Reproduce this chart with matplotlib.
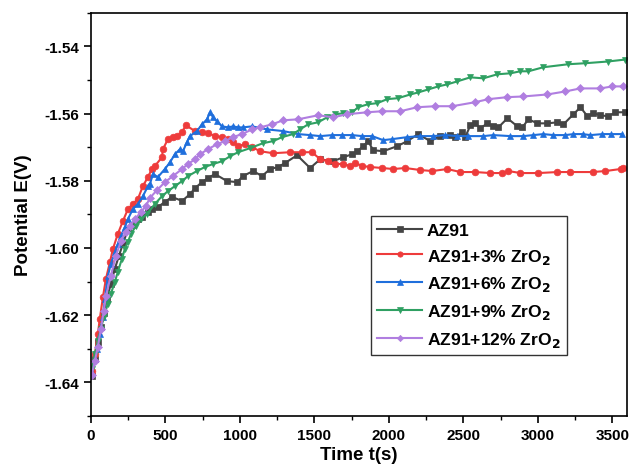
import matplotlib
matplotlib.use("Agg")
import matplotlib.pyplot as plt
from matplotlib.ticker import MultipleLocator, FormatStrFormatter

plt.rcParams['font.family'] = ['Liberation Sans', 'DejaVu Sans']
plt.rcParams['font.weight'] = 'bold'
plt.rcParams['mathtext.default'] = 'bf'

# ---- data ----
t_az91 = [7, 27, 47, 67, 87, 108, 134, 161, 188, 215, 249, 276, 316, 343, 383, 410, 450, 497, 544, 612,
          665, 699, 746, 786, 833, 914, 981, 1021, 1089, 1149, 1203, 1257, 1304, 1384, 1472, 1539, 1626,
          1693, 1754, 1788, 1828, 1861, 1895, 1962, 2056, 2124, 2197, 2278, 2345, 2412, 2446, 2493, 2513,
          2547, 2580, 2614, 2661, 2701, 2735, 2796, 2863, 2896, 2937, 2997, 3064, 3132, 3172, 3239, 3286,
          3333, 3373, 3420, 3474, 3521, 3588]
e_az91 = [-1.6380, -1.6330, -1.6279, -1.6235, -1.6193, -1.6152, -1.6107, -1.6062, -1.6024, -1.5988,
          -1.5944, -1.5932, -1.5914, -1.5908, -1.5893, -1.5884, -1.5878, -1.5863, -1.5848, -1.5860,
          -1.5840, -1.5822, -1.5804, -1.5792, -1.5780, -1.5801, -1.5804, -1.5786, -1.5771, -1.5786,
          -1.5765, -1.5759, -1.5747, -1.5724, -1.5762, -1.5736, -1.5742, -1.5730, -1.5721, -1.5712,
          -1.5697, -1.5682, -1.5709, -1.5712, -1.5697, -1.5682, -1.5661, -1.5682, -1.5667, -1.5664,
          -1.5670, -1.5655, -1.5670, -1.5635, -1.5629, -1.5644, -1.5629, -1.5638, -1.5641, -1.5614,
          -1.5638, -1.5641, -1.5617, -1.5629, -1.5629, -1.5626, -1.5632, -1.5602, -1.5581, -1.5608,
          -1.5599, -1.5605, -1.5608, -1.5596, -1.5596]

t_zr3 = [7, 27, 47, 60, 81, 101, 128, 148, 181, 215, 249, 282, 316, 349, 383, 410, 430, 477, 484, 517,
         551, 578, 612, 638, 699, 746, 786, 833, 880, 921, 954, 988, 1035, 1082, 1136, 1223, 1337, 1418,
         1485, 1539, 1593, 1640, 1693, 1740, 1774, 1821, 1875, 1956, 2029, 2110, 2211, 2292, 2392, 2480,
         2580, 2681, 2762, 2802, 2883, 3004, 3132, 3219, 3367, 3454, 3555, 3575]
e_zr3 = [-1.6365, -1.6315, -1.6255, -1.6211, -1.6146, -1.6092, -1.6042, -1.6003, -1.5958, -1.5920,
         -1.5884, -1.5869, -1.5854, -1.5816, -1.5789, -1.5765, -1.5756, -1.5730, -1.5706, -1.5676,
         -1.5670, -1.5667, -1.5655, -1.5635, -1.5652, -1.5655, -1.5658, -1.5667, -1.5670, -1.5676,
         -1.5685, -1.5697, -1.5691, -1.5700, -1.5712, -1.5718, -1.5715, -1.5715, -1.5715, -1.5736,
         -1.5742, -1.5750, -1.5750, -1.5756, -1.5747, -1.5756, -1.5759, -1.5762, -1.5765, -1.5762,
         -1.5768, -1.5771, -1.5765, -1.5774, -1.5774, -1.5777, -1.5777, -1.5771, -1.5777, -1.5777,
         -1.5774, -1.5774, -1.5774, -1.5771, -1.5765, -1.5762]

t_zr6 = [7, 27, 40, 60, 81, 94, 114, 134, 161, 181, 202, 228, 249, 282, 316, 349, 383, 396, 417, 450,
         497, 531, 564, 598, 618, 645, 665, 712, 746, 780, 800, 820, 847, 880, 921, 954, 988, 1021, 1082,
         1183, 1290, 1391, 1472, 1539, 1620, 1687, 1754, 1821, 1888, 1962, 2023, 2124, 2211, 2298, 2379,
         2460, 2533, 2634, 2701, 2816, 2903, 2970, 3037, 3105, 3185, 3239, 3300, 3353, 3434, 3488, 3568]
e_zr6 = [-1.6371, -1.6330, -1.6300, -1.6255, -1.6205, -1.6152, -1.6083, -1.6048, -1.6012, -1.5988,
         -1.5964, -1.5938, -1.5914, -1.5884, -1.5869, -1.5846, -1.5816, -1.5810, -1.5780, -1.5789,
         -1.5765, -1.5745, -1.5721, -1.5706, -1.5712, -1.5685, -1.5667, -1.5652, -1.5632, -1.5617,
         -1.5596, -1.5611, -1.5623, -1.5638, -1.5641, -1.5638, -1.5641, -1.5641, -1.5638, -1.5647,
         -1.5652, -1.5661, -1.5664, -1.5667, -1.5664, -1.5664, -1.5664, -1.5667, -1.5667, -1.5679,
         -1.5676, -1.5670, -1.5667, -1.5667, -1.5664, -1.5667, -1.5667, -1.5667, -1.5664, -1.5667,
         -1.5667, -1.5664, -1.5661, -1.5664, -1.5664, -1.5661, -1.5661, -1.5664, -1.5661, -1.5661,
         -1.5661]

t_zr9 = [7, 27, 47, 67, 87, 114, 134, 161, 181, 208, 228, 249, 269, 302, 336, 376, 430, 477, 517, 564,
         612, 652, 712, 766, 820, 880, 934, 988, 1068, 1156, 1223, 1284, 1357, 1404, 1458, 1525, 1586,
         1640, 1693, 1754, 1794, 1861, 1922, 1989, 2063, 2144, 2197, 2265, 2332, 2392, 2460, 2547, 2634,
         2728, 2816, 2883, 2937, 3037, 3205, 3320, 3468, 3588]
e_zr9 = [-1.6359, -1.6315, -1.6276, -1.6241, -1.6205, -1.6166, -1.6137, -1.6101, -1.6071, -1.6033,
         -1.6003, -1.5982, -1.5958, -1.5935, -1.5914, -1.5899, -1.5869, -1.5846, -1.5831, -1.5816,
         -1.5801, -1.5786, -1.5771, -1.5759, -1.5750, -1.5742, -1.5727, -1.5715, -1.5703, -1.5688,
         -1.5682, -1.5670, -1.5661, -1.5647, -1.5632, -1.5626, -1.5611, -1.5602, -1.5599, -1.5596,
         -1.5581, -1.5572, -1.5569, -1.5557, -1.5554, -1.5543, -1.5537, -1.5528, -1.5519, -1.5513,
         -1.5504, -1.5492, -1.5495, -1.5483, -1.5480, -1.5474, -1.5474, -1.5462, -1.5453, -1.5450,
         -1.5445, -1.5439]

t_zr12 = [7, 27, 47, 67, 87, 101, 134, 168, 202, 235, 262, 296, 336, 370, 396, 444, 497, 551, 612, 652,
          699, 732, 786, 847, 900, 954, 1015, 1082, 1136, 1216, 1290, 1391, 1525, 1626, 1720, 1855, 1956,
          2076, 2191, 2312, 2426, 2580, 2668, 2796, 2903, 3064, 3185, 3286, 3420, 3501, 3575]
e_zr12 = [-1.6377, -1.6336, -1.6294, -1.6241, -1.6187, -1.6143, -1.6083, -1.6024, -1.5979, -1.5952,
          -1.5935, -1.5914, -1.5893, -1.5875, -1.5851, -1.5828, -1.5804, -1.5786, -1.5765, -1.5750,
          -1.5736, -1.5721, -1.5706, -1.5691, -1.5682, -1.5670, -1.5661, -1.5647, -1.5641, -1.5632,
          -1.5620, -1.5617, -1.5605, -1.5611, -1.5602, -1.5596, -1.5593, -1.5593, -1.5581, -1.5578,
          -1.5578, -1.5566, -1.5557, -1.5551, -1.5549, -1.5543, -1.5534, -1.5525, -1.5525, -1.5519,
          -1.5519]

labels = ['AZ91', 'AZ91+3% ZrO$_2$', 'AZ91+6% ZrO$_2$', 'AZ91+9% ZrO$_2$', 'AZ91+12% ZrO$_2$']
colors = ['#454545', '#ee3b3b', '#1f6fdc', '#2fa062', '#b07ee0']
markers = ['s', 'o', '^', 'v', 'D']

series = [(t_az91, e_az91), (t_zr3, e_zr3), (t_zr6, e_zr6), (t_zr9, e_zr9), (t_zr12, e_zr12)]

fig = plt.figure(figsize=(6.31, 4.77), dpi=100)
ax = fig.add_axes([0.144, 0.126, 0.850, 0.845])

for (t, e), lab, c, m in zip(series, labels, colors, markers):
    ms = 4.8 if m != 'D' else 4.0
    ax.plot(t, e, color=c, marker=m, markersize=ms, linewidth=1.5, label=lab,
            markeredgewidth=0.5)

ax.set_xlim(0, 3600)
ax.set_ylim(-1.65, -1.53)
ax.xaxis.set_major_locator(MultipleLocator(500))
ax.xaxis.set_minor_locator(MultipleLocator(250))
ax.yaxis.set_minor_locator(MultipleLocator(0.01))
ax.set_yticks([-1.64, -1.62, -1.60, -1.58, -1.56, -1.54])
ax.yaxis.set_major_formatter(FormatStrFormatter('%.2f'))

ax.tick_params(axis='both', which='major', direction='out', length=5, width=1.2,
               labelsize=11, top=False, right=False)
ax.tick_params(axis='both', which='minor', direction='out', length=3, width=1.0,
               top=False, right=False)
for lbl in ax.get_xticklabels() + ax.get_yticklabels():
    lbl.set_fontweight('bold')
for sp in ax.spines.values():
    sp.set_linewidth(1.2)

ax.set_xlabel('Time t(s)', fontsize=13.5, fontweight='bold', labelpad=3)
ax.set_ylabel('Potential E(V)', fontsize=13.5, fontweight='bold', labelpad=9)

leg = ax.legend(loc='upper left', bbox_to_anchor=(0.522, 0.495), fontsize=12.6,
                frameon=True, fancybox=False, edgecolor='black', handlelength=2.6,
                handletextpad=0.25, labelspacing=0.5, borderpad=0.35, borderaxespad=0.0,
                markerscale=0.8)
leg.get_frame().set_linewidth(1.0)
for txt in leg.get_texts():
    txt.set_fontweight('bold')

fig.savefig('out.png', dpi=100)
